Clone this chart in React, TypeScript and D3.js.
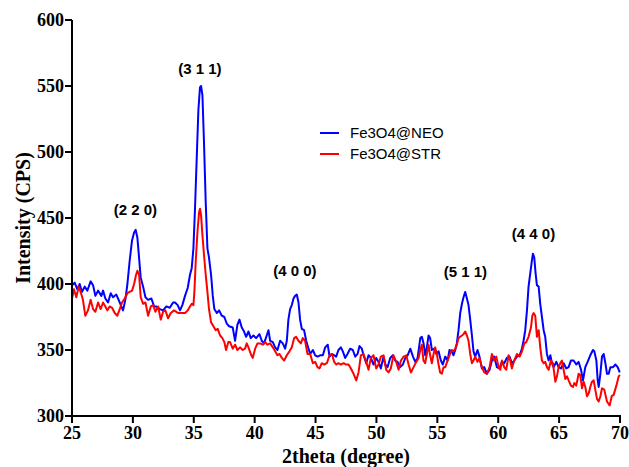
import React from "react";
import * as d3 from "d3";

// Diffraction pattern, Fe3O4@NEO (blue)
const neoTheta = [
  25.0, 25.22, 25.44, 25.63, 25.82, 26.04, 26.26, 26.53, 26.73, 26.92, 27.14, 27.41, 27.55, 27.74, 27.96,
  28.18, 28.37, 28.64, 28.83, 29.05, 29.19, 29.38, 29.55, 29.74, 29.93, 30.1, 30.23, 30.37, 30.48, 30.64,
  30.84, 31.03, 31.25, 31.52, 31.74, 31.93, 32.21, 32.48, 32.75, 33.03, 33.3, 33.46, 33.68, 33.87, 34.06,
  34.28, 34.5, 34.69, 34.83, 34.97, 35.1, 35.24, 35.38, 35.51, 35.6, 35.71, 35.84, 35.98, 36.12, 36.25,
  36.42, 36.56, 36.69, 36.89, 37.08, 37.3, 37.51, 37.71, 37.9, 38.2, 38.39, 38.58, 38.75, 38.94, 39.13,
  39.3, 39.49, 39.68, 39.9, 40.12, 40.39, 40.58, 40.77, 40.99, 41.13, 41.27, 41.49, 41.68, 41.87, 42.09,
  42.31, 42.5, 42.64, 42.77, 42.91, 43.05, 43.19, 43.32, 43.46, 43.6, 43.73, 43.87, 44.06, 44.23, 44.42,
  44.56, 44.78, 44.97, 45.16, 45.38, 45.6, 45.79, 46.0, 46.15, 46.34, 46.53, 46.69, 46.88, 47.08, 47.24,
  47.43, 47.62, 47.84, 48.06, 48.26, 48.45, 48.61, 48.8, 48.94, 49.16, 49.35, 49.54, 49.76, 49.98, 50.17,
  50.36, 50.58, 50.72, 50.91, 51.13, 51.35, 51.54, 51.73, 51.95, 52.17, 52.37, 52.56, 52.78, 53.0, 53.19,
  53.38, 53.6, 53.73, 53.87, 54.01, 54.14, 54.28, 54.41, 54.55, 54.74, 54.91, 55.1, 55.29, 55.45, 55.65,
  55.84, 56.0, 56.19, 56.33, 56.47, 56.6, 56.74, 56.88, 57.02, 57.15, 57.29, 57.43, 57.56, 57.7, 57.84,
  57.97, 58.11, 58.3, 58.46, 58.66, 58.85, 59.07, 59.29, 59.48, 59.67, 59.89, 60.11, 60.3, 60.49, 60.71,
  60.93, 61.12, 61.32, 61.54, 61.76, 61.95, 62.08, 62.22, 62.36, 62.49, 62.63, 62.77, 62.85, 62.96, 63.07,
  63.18, 63.32, 63.45, 63.59, 63.73, 63.86, 64.0, 64.14, 64.28, 64.41, 64.55, 64.77, 64.96, 65.15, 65.37,
  65.59, 65.78, 65.97, 66.19, 66.41, 66.6, 66.8, 66.96, 67.15, 67.34, 67.56, 67.78, 67.89, 68.06, 68.17,
  68.25, 68.39, 68.52, 68.66, 68.8, 68.93, 69.07, 69.21, 69.43, 69.62, 69.81, 69.98,
];
const neoCounts = [
  399, 401, 396, 400, 394, 398, 395, 402, 399, 391, 395, 391, 395, 389, 386,
  393, 390, 392, 388, 383, 380, 388, 400, 418, 433, 439, 441, 435, 423, 405,
  398, 390, 388, 389, 383, 383, 381, 380, 383, 382, 386, 386, 384, 380, 384,
  391, 397, 407, 412, 427, 457, 495, 532, 549, 550, 543, 507, 462, 427, 420,
  407, 391, 381, 378, 380, 376, 375, 370, 368, 367, 357, 369, 373, 367, 364,
  360, 364, 359, 361, 359, 362, 357, 355, 361, 365, 357, 356, 352, 350, 357,
  355, 351, 357, 373, 381, 384, 389, 391, 392, 386, 373, 366, 365, 357, 351,
  347, 350, 346, 345, 346, 346, 352, 354, 345, 347, 346, 345, 350, 352, 349,
  344, 347, 351, 350, 345, 347, 353, 351, 346, 340, 346, 344, 339, 344, 341,
  336, 345, 339, 337, 344, 346, 342, 341, 337, 339, 344, 346, 351, 345, 341,
  344, 359, 360, 355, 346, 352, 361, 359, 350, 351, 347, 349, 342, 339, 345,
  342, 350, 349, 346, 350, 355, 365, 378, 385, 390, 394, 389, 384, 373, 361,
  349, 345, 350, 345, 336, 337, 332, 335, 342, 345, 337, 336, 341, 340, 344,
  345, 340, 342, 345, 346, 351, 357, 365, 380, 398, 408, 418, 423, 420, 408,
  399, 398, 385, 375, 365, 360, 347, 342, 346, 340, 337, 341, 337, 336, 340,
  336, 337, 342, 342, 339, 341, 335, 327, 337, 341, 346, 350, 349, 342, 327,
  322, 332, 345, 347, 340, 332, 332, 337, 337, 339, 337, 333,
];

// Diffraction pattern, Fe3O4@STR (red)
const strTheta = [
  25.0, 25.16, 25.35, 25.55, 25.71, 25.9, 26.09, 26.31, 26.53, 26.73, 26.92, 27.14, 27.35, 27.55, 27.74,
  27.9, 28.09, 28.29, 28.51, 28.72, 28.92, 29.11, 29.33, 29.55, 29.74, 29.93, 30.1, 30.26, 30.37, 30.51,
  30.64, 30.84, 31.03, 31.25, 31.47, 31.66, 31.85, 32.07, 32.29, 32.48, 32.67, 32.89, 33.11, 33.38, 33.73,
  34.01, 34.28, 34.5, 34.69, 34.83, 34.97, 35.05, 35.16, 35.3, 35.43, 35.51, 35.6, 35.71, 35.84, 35.98,
  36.12, 36.25, 36.42, 36.61, 36.8, 36.97, 37.16, 37.35, 37.51, 37.65, 37.84, 37.98, 38.2, 38.39, 38.58,
  38.8, 39.02, 39.21, 39.35, 39.49, 39.68, 39.84, 40.04, 40.23, 40.45, 40.67, 40.86, 41.05, 41.27, 41.49,
  41.68, 41.87, 42.04, 42.23, 42.42, 42.64, 42.86, 43.05, 43.24, 43.4, 43.6, 43.79, 43.95, 44.14, 44.34,
  44.56, 44.78, 44.97, 45.16, 45.32, 45.51, 45.71, 45.93, 46.15, 46.34, 46.53, 46.69, 46.88, 47.08, 47.3,
  47.51, 47.71, 47.9, 48.12, 48.34, 48.53, 48.72, 48.94, 49.16, 49.35, 49.54, 49.76, 49.98, 50.17, 50.36,
  50.58, 50.8, 50.99, 51.18, 51.4, 51.62, 51.82, 52.01, 52.23, 52.45, 52.64, 52.83, 53.05, 53.27, 53.46,
  53.6, 53.73, 53.86, 54.0, 54.14, 54.28, 54.41, 54.55, 54.69, 54.82, 54.96, 55.1, 55.23, 55.37, 55.51,
  55.65, 55.84, 56.0, 56.19, 56.33, 56.47, 56.6, 56.74, 56.88, 57.02, 57.15, 57.29, 57.43, 57.56, 57.7,
  57.84, 57.97, 58.11, 58.3, 58.46, 58.66, 58.85, 59.07, 59.29, 59.48, 59.67, 59.84, 60.03, 60.17, 60.3,
  60.49, 60.66, 60.85, 60.99, 61.12, 61.32, 61.54, 61.76, 61.95, 62.14, 62.3, 62.49, 62.69, 62.8, 62.91,
  63.04, 63.18, 63.32, 63.45, 63.59, 63.73, 63.86, 64.0, 64.14, 64.33, 64.49, 64.69, 64.82, 64.96, 65.1,
  65.23, 65.37, 65.51, 65.65, 65.78, 65.97, 66.14, 66.25, 66.41, 66.6, 66.74, 66.88, 67.01, 67.15, 67.29,
  67.43, 67.56, 67.7, 67.84, 67.97, 68.11, 68.25, 68.39, 68.52, 68.71, 68.93, 69.15, 69.32, 69.48, 69.7,
  69.89, 70.0,
];
const strCounts = [
  389, 396, 390, 398, 394, 388, 376, 380, 388, 381, 379, 386, 381, 386, 383,
  380, 383, 382, 378, 376, 381, 386, 389, 393, 394, 395, 400, 407, 410, 407,
  390, 385, 386, 376, 383, 384, 379, 383, 373, 379, 380, 374, 378, 380, 378,
  378, 378, 380, 383, 385, 384, 394, 417, 439, 454, 457, 452, 437, 422, 407,
  394, 381, 371, 368, 365, 366, 361, 359, 356, 350, 356, 356, 351, 354, 350,
  352, 350, 351, 355, 352, 347, 344, 351, 355, 355, 354, 356, 354, 355, 352,
  349, 346, 347, 344, 342, 346, 349, 352, 359, 360, 357, 355, 359, 357, 347,
  347, 340, 341, 337, 336, 340, 339, 340, 346, 347, 341, 339, 340, 339, 340,
  339, 339, 336, 332, 327, 333, 346, 347, 341, 335, 344, 346, 336, 339, 345,
  346, 335, 333, 336, 346, 341, 335, 342, 345, 346, 339, 333, 337, 341, 344,
  350, 354, 342, 340, 347, 354, 346, 340, 347, 352, 347, 339, 333, 332, 337,
  337, 342, 346, 350, 349, 351, 354, 359, 360, 361, 362, 364, 361, 357, 347,
  340, 342, 345, 341, 344, 337, 333, 332, 337, 347, 342, 345, 337, 335, 342,
  337, 335, 346, 342, 336, 342, 347, 345, 349, 355, 356, 360, 367, 376, 378,
  376, 360, 365, 352, 342, 340, 341, 337, 335, 342, 340, 326, 330, 337, 340,
  342, 335, 328, 330, 327, 323, 322, 325, 323, 332, 331, 321, 326, 322, 315,
  317, 322, 326, 327, 320, 313, 311, 315, 321, 320, 311, 308, 315, 316, 323,
  330, 331,
];

const seriesNames = ["Fe3O4@NEO", "Fe3O4@STR"];
const seriesColors = ["#0000ff", "#ff0000"];

// Reflection labels (Miller indices) and their anchor positions
const peakLabels = ["(2 2 0)", "(3 1 1)", "(4 0 0)", "(5 1 1)", "(4 4 0)"];
const peakTheta = [30.2, 35.5, 43.3, 57.3, 62.9];
const peakCounts = [452, 559, 406, 405, 434];

const xTicks = [25, 30, 35, 40, 45, 50, 55, 60, 65, 70];
const yTicks = [300, 350, 400, 450, 500, 550, 600];

const W = 629;
const H = 467;
const left = 72;
const right = 620;
const top = 20;
const bottom = 416;

const serif = "'Liberation Serif', 'Times New Roman', serif";
const sans = "'Liberation Sans', Arial, sans-serif";

export default function App() {
  const x = d3.scaleLinear().domain([25, 70]).range([left, right]);
  const y = d3.scaleLinear().domain([300, 600]).range([bottom, top]);

  const line = d3
    .line<[number, number]>()
    .x((d) => x(d[0]))
    .y((d) => y(d[1]));

  const neo = neoTheta.map((t, i) => [t, neoCounts[i]] as [number, number]);
  const str = strTheta.map((t, i) => [t, strCounts[i]] as [number, number]);

  return (
    <svg
      width={W}
      height={H}
      style={{ position: "absolute", left: 0, top: 0, background: "#fff" }}
    >
      <rect width={W} height={H} fill="#fff" />

      <path d={line(neo) || ""} fill="none" stroke={seriesColors[0]} strokeWidth={2} strokeLinejoin="round" />
      <path d={line(str) || ""} fill="none" stroke={seriesColors[1]} strokeWidth={2} strokeLinejoin="round" />

      {/* axes */}
      <line x1={left} x2={left} y1={top} y2={bottom + 1} stroke="#000" strokeWidth={2} />
      <line x1={left - 1} x2={right + 1} y1={bottom} y2={bottom} stroke="#000" strokeWidth={2} />

      {yTicks.map((t) => (
        <g key={"y" + t}>
          <line x1={left - 7} x2={left} y1={y(t)} y2={y(t)} stroke="#000" strokeWidth={2} />
          <text
            x={left - 8}
            y={y(t) + 6}
            textAnchor="end"
            fontFamily={serif}
            fontWeight="bold"
            fontSize={18}
          >
            {t}
          </text>
        </g>
      ))}

      {xTicks.map((t) => (
        <g key={"x" + t}>
          <line x1={x(t)} x2={x(t)} y1={bottom} y2={bottom + 7} stroke="#000" strokeWidth={2} />
          <text
            x={x(t)}
            y={bottom + 23}
            textAnchor="middle"
            fontFamily={serif}
            fontWeight="bold"
            fontSize={18}
          >
            {t}
          </text>
        </g>
      ))}

      <text
        x={(left + right) / 2}
        y={463}
        textAnchor="middle"
        fontFamily={serif}
        fontWeight="bold"
        fontSize={20}
      >
        2theta (degree)
      </text>
      <text
        transform={`translate(30, ${(top + bottom) / 2}) rotate(-90)`}
        textAnchor="middle"
        fontFamily={serif}
        fontWeight="bold"
        fontSize={20}
      >
        Intensity (CPS)
      </text>

      {peakLabels.map((lab, i) => (
        <text
          key={lab + i}
          x={x(peakTheta[i])}
          y={y(peakCounts[i])}
          textAnchor="middle"
          fontFamily={sans}
          fontWeight="bold"
          fontSize={15}
        >
          {lab}
        </text>
      ))}

      {/* legend */}
      {seriesNames.map((name, i) => (
        <g key={name} transform={`translate(320, ${133 + i * 21})`}>
          <line x1={0} x2={19} y1={0} y2={0} stroke={seriesColors[i]} strokeWidth={2} />
          <text x={30} y={5} fontFamily={sans} fontSize={15}>
            {name}
          </text>
        </g>
      ))}
    </svg>
  );
}
